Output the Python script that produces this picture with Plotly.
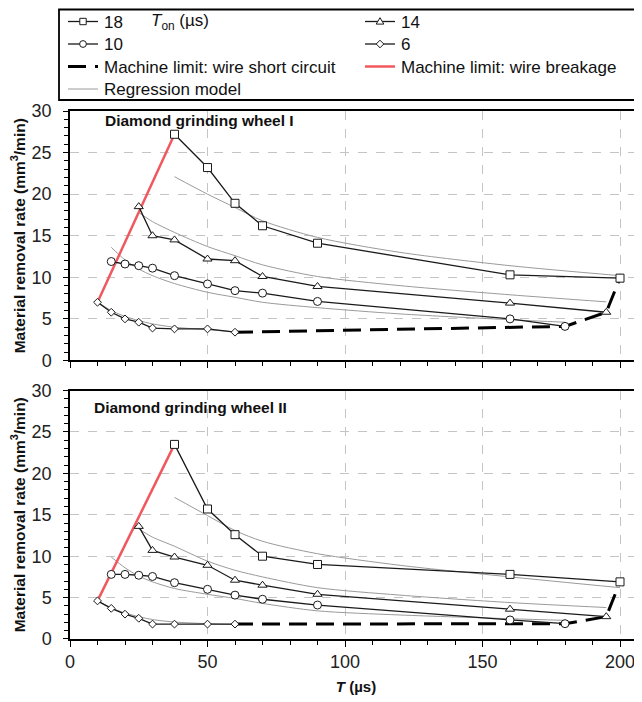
import plotly.graph_objects as go

# ---------------- data ----------------
toff_18 = [38, 50, 60, 70, 90, 160, 200]
toff_14 = [25, 30, 38, 50, 60, 70, 90, 160, 195]
toff_10 = [15, 20, 25, 30, 38, 50, 60, 70, 90, 160, 180]
toff_6 = [10, 15, 20, 25, 30, 38, 50, 60]

# Diamond grinding wheel I
mrr_I_18 = [27.2, 23.2, 18.9, 16.2, 14.1, 10.3, 9.9]
mrr_I_14 = [18.5, 15.0, 14.5, 12.2, 12.0, 10.1, 8.9, 6.9, 5.8]
mrr_I_10 = [11.9, 11.6, 11.4, 11.1, 10.2, 9.2, 8.4, 8.1, 7.1, 5.0, 4.1]
mrr_I_6 = [7.0, 5.8, 5.0, 4.6, 3.9, 3.8, 3.8, 3.4]

# Diamond grinding wheel II
mrr_II_18 = [23.5, 15.7, 12.6, 10.0, 9.0, 7.8, 6.9]
mrr_II_14 = [13.6, 10.7, 9.9, 8.9, 7.1, 6.5, 5.4, 3.6, 2.7]
mrr_II_10 = [7.8, 7.8, 7.7, 7.55, 6.8, 6.0, 5.3, 4.8, 4.1, 2.3, 1.85]
mrr_II_6 = [4.6, 3.7, 3.0, 2.5, 1.8, 1.8, 1.8, 1.8]

# Regression model curves
reg_x_18 = [38, 50, 60, 70, 90, 120, 160, 200]
reg_x_14 = [25, 30, 38, 50, 60, 70, 90, 120, 160, 195]
reg_x_10 = [15, 20, 25, 30, 38, 50, 60, 70, 90, 120, 160, 180]
reg_x_6 = [10, 15, 20, 25, 30, 38, 50, 60]

reg_I_18 = [22.1, 20.0, 18.4, 16.8, 14.8, 13.0, 11.4, 10.2]
reg_I_14 = [17.8, 16.7, 15.4, 13.7, 12.6, 11.5, 10.1, 9.0, 7.9, 7.05]
reg_I_10 = [13.6, 12.1, 11.0, 10.2, 9.25, 8.2, 7.6, 7.0, 6.35, 5.6, 4.9, 4.6]
reg_I_6 = [7.05, 6.0, 5.3, 4.8, 4.4, 4.0, 3.7, 3.45]

reg_II_18 = [17.1, 14.9, 13.1, 11.8, 10.3, 8.9, 7.5, 6.2]
reg_II_14 = [13.3, 12.3, 11.2, 9.4, 8.3, 7.5, 6.2, 5.3, 4.4, 3.8]
reg_II_10 = [9.9, 8.6, 7.6, 6.9, 6.1, 5.4, 4.9, 4.3, 3.4, 2.9, 2.45, 2.25]
reg_II_6 = [4.6, 3.75, 3.15, 2.7, 2.35, 2.05, 1.85, 1.75]

series_labels = ["18", "14", "10", "6"]
limit_labels = ["Machine limit: wire short circuit", "Machine limit: wire breakage"]
regression_label = "Regression model"
legend_title = "<i>T</i><sub>on</sub> (µs)"
x_ticks = [0, 50, 100, 150, 200]
y_ticks = [0, 5, 10, 15, 20, 25, 30]

FONT = "Liberation Sans, Arial, sans-serif"
RED = "#f0585e"
GRAY = "#9a9a9a"
INK = "#1a1a1a"

fig = go.Figure()

panels = [
    ("x", "y", [mrr_I_18, mrr_I_14, mrr_I_10, mrr_I_6], [reg_I_18, reg_I_14, reg_I_10, reg_I_6]),
    ("x2", "y2", [mrr_II_18, mrr_II_14, mrr_II_10, mrr_II_6], [reg_II_18, reg_II_14, reg_II_10, reg_II_6]),
]
xs = [toff_18, toff_14, toff_10, toff_6]
reg_xs = [reg_x_18, reg_x_14, reg_x_10, reg_x_6]
symbols = ["square", "triangle-up", "circle", "diamond"]
sizes = [8, 8, 8, 6]

for xa, ya, ys, regs in panels:
    for i in range(4):
        fig.add_trace(go.Scatter(
            x=reg_xs[i], y=regs[i], mode="lines", xaxis=xa, yaxis=ya,
            line=dict(color=GRAY, width=1, shape="spline", smoothing=0.8),
            name=regression_label, hoverinfo="skip"))
    fig.add_trace(go.Scatter(
        x=[xs[3][0], xs[0][0]], y=[ys[3][0], ys[0][0]], mode="lines",
        xaxis=xa, yaxis=ya, line=dict(color=RED, width=2.5), name=limit_labels[1]))
    fig.add_trace(go.Scatter(
        x=[xs[3][-1], xs[2][-1], xs[1][-1], xs[0][-1]],
        y=[ys[3][-1], ys[2][-1], ys[1][-1], ys[0][-1]], mode="lines",
        xaxis=xa, yaxis=ya, line=dict(color="black", width=3, dash="18px,9px"),
        name=limit_labels[0]))
    for i in range(4):
        fig.add_trace(go.Scatter(
            x=xs[i], y=ys[i], mode="lines+markers", xaxis=xa, yaxis=ya,
            line=dict(color=INK, width=1.3),
            marker=dict(symbol=symbols[i], size=sizes[i], color="white",
                        line=dict(color=INK, width=1)),
            name=series_labels[i]))

axis_common = dict(
    showline=True, linecolor="black", linewidth=1.5,
    ticks="outside", tickcolor="black",
    showgrid=True, gridcolor="#c4c4c4", griddash="dash", gridwidth=1,
    zeroline=False,
    tickfont=dict(family=FONT, size=18, color="#222"),
)
xa_common = dict(axis_common, range=[0, 208], tickvals=x_ticks, ticklen=6, mirror=True,
                 minor=dict(dtick=10, tick0=0, ticklen=4, ticks="outside", tickcolor="black", showgrid=False))
ya_common = dict(axis_common, range=[0, 30], tickvals=y_ticks, ticklen=5, ticklabelstandoff=8,
                 minor=dict(dtick=1, tick0=0, ticklen=4, ticks="outside", tickcolor="black", showgrid=False),
                 title=dict(text="<b>Material removal rate (mm<sup>3</sup>/min)</b>",
                            font=dict(family=FONT, size=15.5, color="#111"), standoff=6))

# ---------------- page geometry (page offset of 8 px from body margin) ----------------
PLOT_L, PLOT_W, PLOT_BOTTOM, PLOT_H = 70.0, 572.0, 639.0, 528.0


def px(xp):
    return (xp - PLOT_L) / PLOT_W


def py(yp):
    return (PLOT_BOTTOM - yp) / PLOT_H


# ---------------- hand-drawn legend (layout decoration) ----------------
shapes = []
annotations = []
shapes.append(dict(type="rect", xref="paper", yref="paper", x0=px(59), x1=px(700),
                   y0=py(100), y1=py(9.5), line=dict(color="black", width=1.8),
                   fillcolor="white", layer="above"))

row_y = [21.5, 44, 66.5, 89]
col_x = [68, 365]
sample_len = 30
text_gap = 5

legend_items = [
    (series_labels[0], 0, 0, dict(color=INK, width=1.3), "square"),
    (series_labels[1], 1, 0, dict(color=INK, width=1.3), "triangle"),
    (series_labels[2], 0, 1, dict(color=INK, width=1.3), "circle"),
    (series_labels[3], 1, 1, dict(color=INK, width=1.3), "diamond"),
    (limit_labels[0], 0, 2, dict(color="black", width=3, dash="18px,9px"), None),
    (limit_labels[1], 1, 2, dict(color=RED, width=2.5), None),
    (regression_label, 0, 3, dict(color=GRAY, width=1), None),
]

marker_paths = {
    "triangle": "M-3.8,-2.6 L3.8,-2.6 L0,3.8 Z",
    "diamond": "M0,3.8 L3.8,0 L0,-3.8 L-3.8,0 Z",
}

for label, c, r, lstyle, mk in legend_items:
    x0 = col_x[c]
    yc = row_y[r]
    shapes.append(dict(type="line", xref="paper", yref="paper",
                       x0=px(x0), x1=px(x0 + sample_len), y0=py(yc), y1=py(yc),
                       line=lstyle, layer="above"))
    if mk is not None:
        cx, cy = px(x0 + sample_len / 2), py(yc)
        common = dict(xref="paper", yref="paper", xsizemode="pixel", ysizemode="pixel",
                      xanchor=cx, yanchor=cy, fillcolor="white",
                      line=dict(color=INK, width=1), layer="above")
        if mk == "square":
            shapes.append(dict(common, type="rect", x0=-3.2, x1=3.2, y0=-3.2, y1=3.2))
        elif mk == "circle":
            shapes.append(dict(common, type="circle", x0=-3.4, x1=3.4, y0=-3.4, y1=3.4))
        else:
            shapes.append(dict(common, type="path", path=marker_paths[mk]))
    annotations.append(dict(text=label, xref="paper", yref="paper",
                            x=px(x0 + sample_len + text_gap), y=py(yc + 0.5),
                            xanchor="left", yanchor="middle", showarrow=False,
                            borderpad=0,
                            font=dict(family=FONT, size=17, color="#111")))

annotations.append(dict(text=legend_title, xref="paper", yref="paper",
                        x=px(150), y=py(22.5), xanchor="left", yanchor="middle",
                        showarrow=False, borderpad=0,
                        font=dict(family=FONT, size=17, color="#111")))

annotations += [
    dict(text="<b>Diamond grinding wheel I</b>", xref="x domain", yref="y domain",
         x=0.058, y=0.961, xanchor="left", yanchor="middle", showarrow=False,
         font=dict(family=FONT, size=15.5, color="#111")),
    dict(text="<b>Diamond grinding wheel II</b>", xref="x2 domain", yref="y2 domain",
         x=0.038, y=0.93, xanchor="left", yanchor="middle", showarrow=False,
         font=dict(family=FONT, size=15.5, color="#111")),
]

top_dom = [0.5275, 1.0]
bot_dom = [0.0, 0.4705]

fig.update_layout(
    width=634, height=694,
    margin=dict(l=62, r=0, t=103, b=63, autoexpand=False),
    paper_bgcolor="white", plot_bgcolor="white",
    font=dict(family=FONT, color="#111"),
    xaxis=dict(xa_common, domain=[0, 1], anchor="y", showticklabels=False, matches="x2"),
    yaxis=dict(ya_common, domain=top_dom, anchor="x"),
    xaxis2=dict(xa_common, domain=[0, 1], anchor="y2",
                title=dict(text="<b><i>T</i> (µs)</b>", font=dict(family=FONT, size=15, color="#111"), standoff=10)),
    yaxis2=dict(ya_common, domain=bot_dom, anchor="x2"),
    showlegend=False,
    shapes=shapes,
    annotations=annotations,
)

fig.write_html("out.html")
